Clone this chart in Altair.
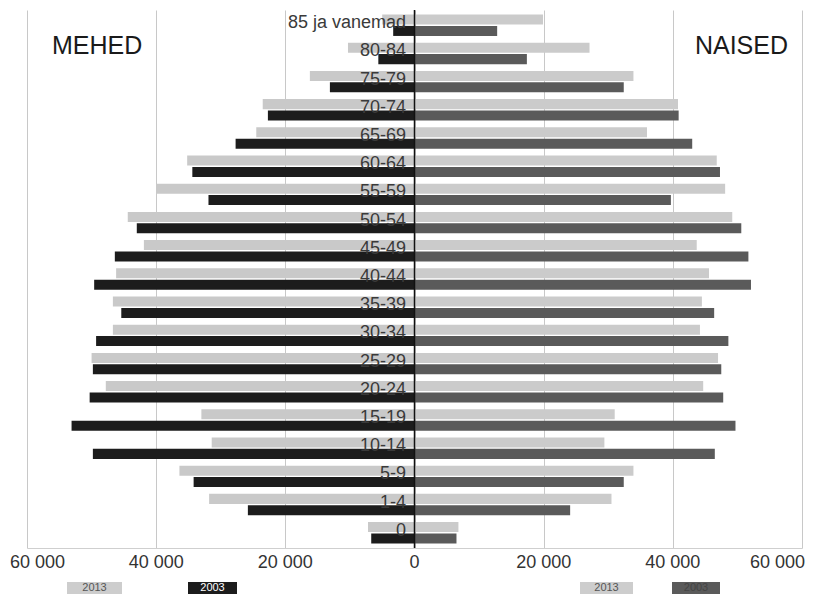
import altair as alt
import pandas as pd

# Age groups, bottom (youngest) to top (oldest)
ages = ["0", "1-4", "5-9", "10-14", "15-19", "20-24", "25-29", "30-34", "35-39",
        "40-44", "45-49", "50-54", "55-59", "60-64", "65-69", "70-74", "75-79",
        "80-84", "85 ja vanemad"]

men_2013 = [7200, 31800, 36400, 31400, 33000, 47800, 50000, 46700, 46700,
            46200, 41900, 44400, 40000, 35200, 24500, 23500, 16200, 10300, 5000]
men_2003 = [6700, 25800, 34200, 49800, 53100, 50300, 49800, 49300, 45400,
            49600, 46400, 43000, 31900, 34400, 27700, 22700, 13100, 5600, 3300]
women_2013 = [6800, 30500, 33900, 29400, 31000, 44700, 47000, 44200, 44500,
              45600, 43700, 49200, 48100, 46800, 36000, 40800, 33900, 27100, 19900]
women_2003 = [6500, 24100, 32400, 46500, 49700, 47800, 47500, 48600, 46400,
              52100, 51700, 50600, 39700, 47300, 43000, 40900, 32400, 17400, 12800]

tick_values = [-60000, -40000, -20000, 0, 20000, 40000, 60000]
tick_labels = ["60 000", "40 000", "20 000", "0", "20 000", "40 000", "60 000"]
years = ["2013", "2003"]
sex_titles = ["MEHED", "NAISED"]

FONT = "Liberation Sans"

rows = []
for i, a in enumerate(ages):
    rows.append({"age": a, "year": "2013", "key": "M2013", "v": -men_2013[i]})
    rows.append({"age": a, "year": "2003", "key": "M2003", "v": -men_2003[i]})
    rows.append({"age": a, "year": "2013", "key": "N2013", "v": women_2013[i]})
    rows.append({"age": a, "year": "2003", "key": "N2003", "v": women_2003[i]})
df = pd.DataFrame(rows)

ticks_df = pd.DataFrame({"v": tick_values, "lab": tick_labels})

ages_top = ages[::-1]
yscale = alt.Scale(domain=ages_top, paddingInner=0.24, paddingOuter=0.16)
xscale = alt.Scale(domain=[-60000, 60000], nice=False, zero=False)

color_domain = ["M2013", "M2003", "N2013", "N2003"]
color_range = ["#c9c9c9", "#1c1c1c", "#cbcbcb", "#5a5a5a"]

bars = alt.Chart(df).mark_bar().encode(
    x=alt.X("v:Q", scale=xscale, title=None,
            axis=alt.Axis(values=tick_values, grid=True, gridColor="#c8c8c8",
                          gridWidth=1, domainColor="#cfcfcf", ticks=False,
                          labels=False)),
    y=alt.Y("age:N", scale=yscale, axis=None),
    yOffset=alt.YOffset("year:N", scale=alt.Scale(domain=years, paddingInner=0.12)),
    color=alt.Color("key:N", scale=alt.Scale(domain=color_domain, range=color_range), legend=None),
)

center = alt.Chart(pd.DataFrame({"x": [0]})).mark_rule(color="#111111", strokeWidth=1.5).encode(
    x=alt.X("x:Q", scale=xscale)
)

tick_text_style = dict(baseline="middle", fontSize=18, font=FONT, color="#333333")
tick_mid = alt.Chart(ticks_df).transform_filter(
    "abs(datum.v) < 60000"
).mark_text(align="center", **tick_text_style).encode(
    x=alt.X("v:Q", scale=xscale), y=alt.value(553), text="lab:N"
)
tick_left = alt.Chart(ticks_df).transform_filter(
    "datum.v <= -60000"
).mark_text(align="left", dx=-17, **tick_text_style).encode(
    x=alt.X("v:Q", scale=xscale), y=alt.value(553), text="lab:N"
)
tick_right = alt.Chart(ticks_df).transform_filter(
    "datum.v >= 60000"
).mark_text(align="right", dx=3, **tick_text_style).encode(
    x=alt.X("v:Q", scale=xscale), y=alt.value(553), text="lab:N"
)

labels = alt.Chart(pd.DataFrame({"age": ages})).mark_text(
    align="right", baseline="middle", dy=-2, fontSize=18, font=FONT, color="#3a3a3a"
).encode(
    y=alt.Y("age:N", scale=yscale, axis=None),
    x=alt.value(379),
    text="age:N",
)

title_m = alt.Chart(pd.DataFrame({"t": [sex_titles[0]]})).mark_text(
    align="left", baseline="middle", fontSize=25, font=FONT, color="#1a1a1a"
).encode(x=alt.value(25), y=alt.value(36), text="t:N")

title_n = alt.Chart(pd.DataFrame({"t": [sex_titles[1]]})).mark_text(
    align="right", baseline="middle", fontSize=25, font=FONT, color="#1a1a1a"
).encode(x=alt.value(761), y=alt.value(36), text="t:N")


def legend_item(label, x0, x1, fill, tcolor):
    d = pd.DataFrame({"t": [label]})
    box = alt.Chart(d).mark_rect(color=fill).encode(
        x=alt.value(x0), x2=alt.value(x1), y=alt.value(572), y2=alt.value(584)
    )
    txt = alt.Chart(d).mark_text(
        align="center", baseline="middle", fontSize=11, font=FONT, color=tcolor
    ).encode(x=alt.value((x0 + x1) / 2), y=alt.value(578), text="t:N")
    return box + txt


leg = (legend_item(years[0], 40, 95, "#cdcdcd", "#555555")
       + legend_item(years[1], 161, 210, "#1c1c1c", "#ffffff")
       + legend_item(years[0], 553, 606, "#cdcdcd", "#555555")
       + legend_item(years[1], 645, 693, "#5a5a5a", "#444444"))

chart = alt.layer(bars, center, tick_mid, tick_left, tick_right, labels,
                  title_m, title_n, leg).properties(
    width=775, height=538,
    background="white",
    autosize=alt.AutoSizeParams(type="none"),
    padding={"left": 19, "top": 2, "right": 4, "bottom": 47},
).configure_view(strokeWidth=0, stroke="transparent")

chart.save("out.html", embed_options={"renderer": "svg", "actions": False})
